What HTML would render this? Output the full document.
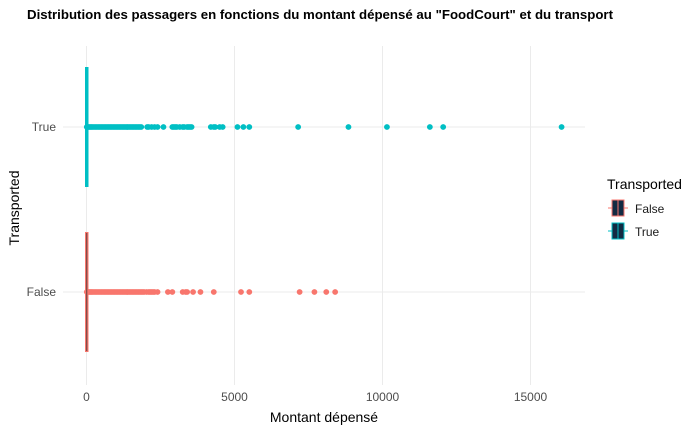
<!DOCTYPE html>
<html><head><meta charset="utf-8"><style>
html,body{margin:0;padding:0;background:#fff;}
svg{display:block;font-family:"Liberation Sans",Arial,sans-serif;}
</style></head><body>
<svg id="chart" width="700" height="432" viewBox="0 0 700 432">
<text x="27" y="19" font-size="12.5" font-weight="bold" fill="#000" textLength="586" lengthAdjust="spacingAndGlyphs">Distribution des passagers en fonctions du montant dépensé au "FoodCourt" et du transport</text>
<g id="grid"></g>
<g id="marks"></g>
<g id="axes"></g>
<text x="324" y="422" font-size="14" text-anchor="middle" fill="#000">Montant dépensé</text>
<text transform="translate(19,208) rotate(-90)" font-size="14" text-anchor="middle" fill="#000">Transported</text>
<g>
<text x="607" y="189" font-size="14" fill="#000">Transported</text>
<g>
<line x1="608" y1="208" x2="628" y2="208" stroke="#F8766D" stroke-width="1"/>
<rect x="612" y="200" width="12" height="16" fill="#132B43" stroke="#F8766D" stroke-width="1"/>
<line x1="618" y1="200" x2="618" y2="216" stroke="#F8766D" stroke-width="1"/>
<text x="635" y="213" font-size="12" fill="#1a1a1a">False</text>
</g>
<g>
<line x1="608" y1="231" x2="628" y2="231" stroke="#00BFC4" stroke-width="1"/>
<rect x="612" y="223" width="12" height="16" fill="#132B43" stroke="#00BFC4" stroke-width="1"/>
<line x1="618" y1="223" x2="618" y2="239" stroke="#00BFC4" stroke-width="1"/>
<text x="635" y="236" font-size="12" fill="#1a1a1a">True</text>
</g>
</g>
</svg>
<script>
const categories = ["False", "True"];
const xTicks = [0, 5000, 10000, 15000];
const xTickLabels = ["0", "5000", "10000", "15000"];
const outliersFalse = [10,40,80,120,160,200,250,300,350,400,450,500,550,600,650,700,750,800,850,900,950,1000,1050,1100,1150,1200,1250,1300,1350,1400,1450,1500,1550,1600,1650,1700,1750,1800,1850,1900,1950,2030,2100,2150,2200,2250,2300,2400,2750,2900,3250,3350,3400,3600,3850,4300,5220,5500,7200,7700,8100,8400];
const outliersTrue = [10,40,80,120,160,200,250,300,350,400,450,500,550,600,650,700,750,800,850,900,950,1000,1050,1100,1150,1200,1250,1300,1350,1400,1450,1500,1550,1600,1650,1700,1750,1800,1850,2050,2100,2200,2300,2400,2600,2900,2950,3000,3050,3150,3250,3300,3400,3450,3500,3550,4200,4300,4350,4500,4600,5100,5300,5500,7150,8850,10150,11600,12050,16050];
const boxQ1 = [0, 0];
const boxQ3 = [30, 30];
const SVGNS = "http://www.w3.org/2000/svg";
const xScale = v => 86.5 + v * (148 / 5000);
const yBand = {"False": 292, "True": 127};
const halfBox = 60;
const colors = {"False": "#F8766D", "True": "#00BFC4"};
const grid = document.getElementById('grid');
const marks = document.getElementById('marks');
const axes = document.getElementById('axes');
function mk(tag, attrs, parent){const e=document.createElementNS(SVGNS,tag);for(const k in attrs)e.setAttribute(k,attrs[k]);parent.appendChild(e);return e;}
for (let i=0;i<xTicks.length;i++){
  const gl = mk('line',{x1:xScale(xTicks[i]),x2:xScale(xTicks[i]),y1:46,y2:385,stroke:'#ebebeb','stroke-width':1},grid);
  
  
  const t = mk('text',{x:xScale(xTicks[i]),y:401,'font-size':12,'text-anchor':'middle',fill:'#4d4d4d'},axes);
  t.textContent = xTickLabels[i];
  
  
}
categories.forEach(c=>{
  const gl = mk('line',{x1:63,x2:585,y1:yBand[c],y2:yBand[c],stroke:'#ebebeb','stroke-width':1},grid);
  
  
  const t = mk('text',{x:56,y:yBand[c]+4,'font-size':12,'text-anchor':'end',fill:'#4d4d4d'},axes);
  t.textContent = c;
  
  
});
function drawSeries(cat, idx, outs){
  const y = yBand[cat], col = colors[cat];
  outs.forEach(v=>{
    const p = mk('circle',{cx:xScale(v),cy:y,r:2.9,fill:col},marks);
    
    
  });
  const x0 = xScale(boxQ1[idx]), x1 = xScale(boxQ3[idx]);
  const b = mk('rect',{x:x0-1.5,y:y-halfBox,width:Math.max(3.5,x1-x0),height:halfBox*2,fill:col},marks);
  
  
  if (cat==="False"){
    const m = mk('line',{x1:x0+0.3,x2:x0+0.3,y1:y-halfBox+1,y2:y+halfBox-1,stroke:'#333','stroke-width':0.8},marks);
    
    
  }
}
drawSeries("False",0,outliersFalse);
drawSeries("True",1,outliersTrue);
</script>
</body></html>
